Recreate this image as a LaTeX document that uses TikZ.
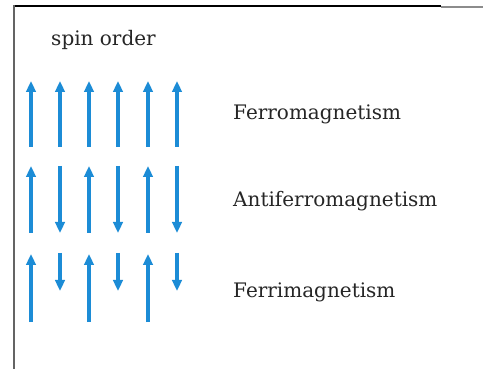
\documentclass[tikz,border=0pt]{standalone}
\usepackage{fontspec}
\setmainfont{DejaVu Serif}
\usetikzlibrary{arrows.meta}
\definecolor{spinblue}{RGB}{28,140,214}
\definecolor{framegray}{RGB}{100,100,100}
\begin{document}
\begin{tikzpicture}[x=1pt,y=-1pt,
  spin/.style={spinblue,line width=3.6pt,-{Triangle[width=9.5pt,length=11pt]}},
  lbl/.style={anchor=west,inner sep=0pt,font=\fontsize{20}{22}\selectfont,text=black!85}]
\useasboundingbox (0,0) rectangle (483,369);
\fill[white] (0,0) rectangle (483,369);
% frame
\draw[line width=1.5pt,black] (13,6) -- (441,6);
\draw[line width=1.2pt,black!45] (441,7) -- (483,7);
\draw[line width=2pt,framegray] (13.5,5.5) -- (13.5,369);
% title
\node[anchor=center,inner sep=0pt,font=\fontsize{20}{22}\selectfont,text=black!85] (title) at (103.5,40) {spin order};
% row 1: ferromagnetism
\foreach \x in {31,60,89,118,148,177}
  \draw[spin] (\x,147) -- (\x,81);
\node[lbl] (ferro) at (233,114) {Ferromagnetism};
% row 2: antiferromagnetism
\foreach \x in {31,89,148}
  \draw[spin] (\x,233) -- (\x,166);
\foreach \x in {60,118,177}
  \draw[spin] (\x,166) -- (\x,233);
\node[lbl] (antiferro) at (233,201) {Antiferromagnetism};
% row 3: ferrimagnetism
\foreach \x in {31,89,148}
  \draw[spin] (\x,322) -- (\x,254);
\foreach \x in {60,118,177}
  \draw[spin] (\x,253) -- (\x,291);
\node[lbl] (ferri) at (233,292) {Ferrimagnetism};
\end{tikzpicture}
\end{document}
